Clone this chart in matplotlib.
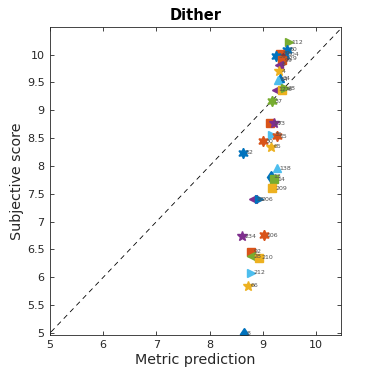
import numpy as np
import matplotlib
matplotlib.use("Agg")
import matplotlib.pyplot as plt

# MATLAB default colour order
colors = ['#0072BD', '#D95319', '#EDB120', '#7E2F8E', '#77AC30', '#4DBEEE', '#A2142F']

# per point: metric prediction, subjective score, label, colour index, marker
pred = [9.49, 9.45, 9.42, 9.33, 9.24, 9.38, 9.36, 9.30, 9.30, 9.33,
        9.29, 9.24, 9.36, 9.42, 9.17, 9.14, 9.22, 9.17, 9.26, 9.01,
        9.15, 8.63, 9.26, 9.15, 9.22, 9.18, 8.82, 8.92, 8.61, 9.02,
        8.78, 8.78, 8.93, 8.78, 8.72, 8.65]
score = [10.22, 10.09, 10.01, 10.02, 9.97, 9.93, 9.90, 9.82, 9.70, 9.58,
         9.55, 9.37, 9.37, 9.40, 9.16, 8.77, 8.77, 8.56, 8.53, 8.44,
         8.35, 8.24, 7.96, 7.81, 7.76, 7.60, 7.40, 7.40, 6.74, 6.76,
         6.46, 6.38, 6.35, 6.08, 5.85, 4.99]
labels = ['112', '60', '104', '89', '39', '129', '99', '8', '4', '34',
          '84', '12', '78', '28', '37', '13', '73', '35', '15', '30',
          '65', '52', '138', '13', '14', '209', '16', '206', '234', '106',
          '92', '28', '210', '212', '66', '8']
cidx = [4, 0, 0, 1, 0, 6, 1, 3, 2, 0,
        5, 3, 2, 4, 4, 1, 3, 5, 1, 1,
        2, 0, 5, 0, 4, 2, 3, 0, 3, 1,
        1, 4, 2, 5, 2, 0]
marks = ['>', 'hex', '^', 's', 'hex', 'd', 's', '<', '*', '^',
         '^', '<', 's', '>', 'hex', 's', '*', '>', 'hex', 'hex',
         '*', 'hex', '^', 'd', 's', 's', '<', '>', '*', 'hex',
         's', '<', 's', '>', '*', 'd']

fig = plt.figure(figsize=(3.78, 3.78), dpi=100)
ax = fig.add_axes([0.131, 0.114, 0.771, 0.815])

ax.plot([4.9, 10.6], [4.9, 10.6], 'k--', lw=0.6, dashes=(6, 5))

for x, y, lab, c, m in zip(pred, score, labels, cidx, marks):
    mk = (6, 1, 0) if m == 'hex' else m
    ms = 7.5 if m in ('hex', '*') else 6
    ax.plot(x, y, marker=mk, color=colors[c], markersize=ms, linestyle='none')
    ax.text(x + 0.05, y, lab, fontsize=4.5, color='#505050', va='center', ha='left')

ax.set_xlim(4.99, 10.47)
ax.set_ylim(4.965, 10.5)
ax.set_xticks([5, 6, 7, 8, 9, 10])
ax.set_xticklabels(['5', '6', '7', '8', '9', '10'])
yt = [5, 5.5, 6, 6.5, 7, 7.5, 8, 8.5, 9, 9.5, 10]
ax.set_yticks(yt)
ax.set_yticklabels([f'{v:g}' for v in yt])
ax.tick_params(direction='in', top=True, right=True, length=3, width=0.6,
               labelsize=8, colors='#262626')
for s in ax.spines.values():
    s.set_linewidth(0.6)
    s.set_color('#262626')

ax.set_xlabel('Metric prediction', fontsize=10.3, color='#262626', labelpad=2)
ax.set_ylabel('Subjective score', fontsize=10.3, color='#262626', labelpad=2)
ax.set_title('Dither', fontsize=10.5, fontweight='bold', pad=5)

fig.savefig('out.png', dpi=100)
